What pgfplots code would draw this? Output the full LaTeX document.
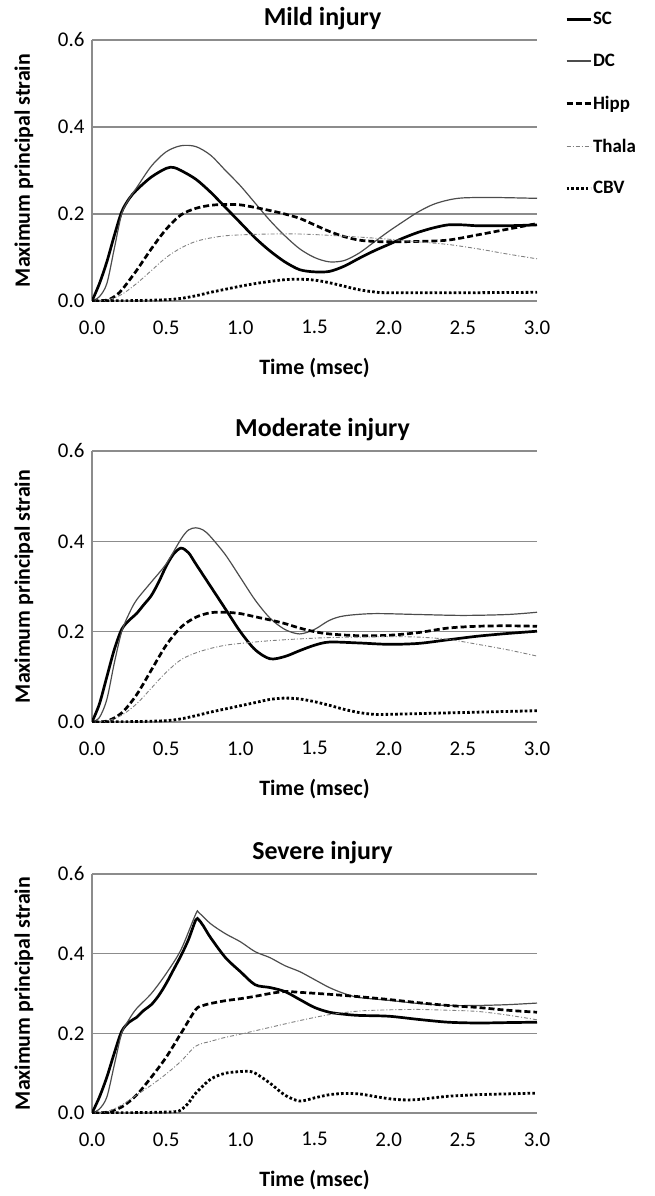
\documentclass[border=0pt]{standalone}
\usepackage{pgfplots}
\pgfplotsset{compat=1.18}
\usepackage{fontspec}
\setmainfont{Carlito}
\definecolor{gridc}{gray}{0.55}
\definecolor{dcc}{gray}{0.3}
\definecolor{thc}{gray}{0.5}
\pgfplotsset{
 every axis title shift=0pt,
 panel/.style={
  scale only axis, width=445bp,
  xmin=0, xmax=3, ymin=0, ymax=0.6,
  axis x line=bottom, axis y line=left,
  axis line style={gridc, line width=1.2bp, -},
  xtick={0,0.5,1,1.5,2,2.5,3}, ytick={0,0.2,0.4,0.6},
  ymajorgrids, major grid style={gridc, line width=1.2bp},
  major tick length=0pt,
  tick label style={font=\fontsize{21}{25}\selectfont},
  /pgf/number format/assume math mode=true,
  xticklabel style={/pgf/number format/fixed, /pgf/number format/fixed zerofill, /pgf/number format/precision=1, yshift=-16bp},
  yticklabel style={/pgf/number format/fixed, /pgf/number format/fixed zerofill, /pgf/number format/precision=1, xshift=-4bp},
  xlabel={Time (msec)}, ylabel={Maximum principal strain},
  xlabel style={font=\bfseries\fontsize{22}{26}\selectfont, at={([yshift=-67bp]axis description cs:0.5,0)}, anchor=center},
  ylabel style={font=\bfseries\fontsize{22}{26}\selectfont, at={([xshift=-68bp]axis description cs:0,0.5)}, anchor=center},
  title style={font=\bfseries\fontsize{26}{30}\selectfont, at={([xshift=8bp,yshift=21.5bp]axis description cs:0.5,1)}, anchor=center},
 },
 sc/.style={black, line width=2.7bp, smooth, tension=0.5},
 dc/.style={dcc, line width=1.2bp, smooth, tension=0.5},
 hipp/.style={black, line width=2.7bp, dash pattern=on 6bp off 3bp, smooth, tension=0.5},
 thala/.style={thc, line width=0.9bp, dash pattern=on 4bp off 2bp on 1bp off 2bp, smooth, tension=0.5},
 cbv/.style={black, line width=2.8bp, dash pattern=on 2.6bp off 2.2bp, smooth, tension=0.5},
}
\begin{document}
\begin{tikzpicture}
\useasboundingbox (0,0) rectangle (655bp,-1196bp);
% ---------- Mild ----------
\begin{axis}[panel, height=261bp, at={(92bp,-301bp)}, anchor=south west,
  title={Mild injury},
  legend style={at={([xshift=28bp,yshift=29bp]axis description cs:1,1)}, anchor=north west, draw=none, fill=none, inner sep=0pt,
    font=\bfseries\fontsize{19}{22}\selectfont, row sep=26bp, nodes={inner sep=1bp}},
  legend cell align=left,
  legend image code/.code={\draw[#1] (0bp,0bp) -- (24bp,0bp);}]
\addplot[sc] coordinates {(0,0) (0.05,0.04) (0.1,0.09) (0.15,0.15) (0.2,0.205) (0.25,0.235) (0.3,0.255) (0.4,0.285) (0.5,0.305) (0.55,0.307) (0.6,0.3) (0.7,0.28) (0.8,0.25) (0.9,0.215) (1.0,0.18) (1.1,0.145) (1.2,0.115) (1.3,0.09) (1.4,0.072) (1.5,0.067) (1.6,0.068) (1.7,0.08) (1.8,0.098) (1.9,0.115) (2.0,0.13) (2.1,0.145) (2.2,0.158) (2.3,0.168) (2.4,0.175) (2.5,0.175) (2.6,0.173) (2.8,0.173) (3.0,0.175)};
\addlegendentry{SC}
\addplot[dc] coordinates {(0,0) (0.05,0.01) (0.1,0.04) (0.15,0.12) (0.2,0.2) (0.25,0.235) (0.3,0.26) (0.4,0.31) (0.5,0.343) (0.6,0.357) (0.7,0.355) (0.8,0.335) (0.9,0.3) (1.0,0.265) (1.1,0.225) (1.2,0.185) (1.3,0.15) (1.4,0.12) (1.5,0.1) (1.6,0.09) (1.7,0.093) (1.8,0.11) (1.9,0.135) (2.0,0.16) (2.1,0.183) (2.2,0.205) (2.3,0.222) (2.4,0.232) (2.5,0.237) (2.7,0.238) (3.0,0.236)};
\addlegendentry{DC}
\addplot[hipp] coordinates {(0,0) (0.1,0.002) (0.15,0.01) (0.2,0.025) (0.3,0.07) (0.4,0.12) (0.5,0.165) (0.6,0.198) (0.7,0.213) (0.8,0.22) (0.9,0.222) (1.0,0.221) (1.1,0.215) (1.2,0.208) (1.3,0.2) (1.4,0.19) (1.5,0.175) (1.6,0.16) (1.7,0.148) (1.8,0.14) (1.9,0.137) (2.0,0.136) (2.2,0.137) (2.4,0.14) (2.6,0.152) (2.8,0.165) (3.0,0.178)};
\addlegendentry{Hipp}
\addplot[thala] coordinates {(0,0) (0.1,0.002) (0.2,0.015) (0.3,0.04) (0.4,0.07) (0.5,0.1) (0.6,0.122) (0.7,0.137) (0.8,0.145) (0.9,0.15) (1.0,0.152) (1.2,0.154) (1.4,0.154) (1.6,0.151) (1.8,0.147) (2.0,0.142) (2.2,0.136) (2.4,0.13) (2.6,0.12) (2.8,0.108) (3.0,0.097)};
\addlegendentry{Thala}
\addplot[cbv] coordinates {(0,0) (0.3,0.001) (0.5,0.003) (0.6,0.006) (0.7,0.012) (0.8,0.02) (0.9,0.027) (1.0,0.034) (1.1,0.04) (1.2,0.045) (1.3,0.049) (1.4,0.05) (1.5,0.048) (1.6,0.042) (1.7,0.034) (1.8,0.026) (1.9,0.021) (2.0,0.019) (2.5,0.019) (3.0,0.02)};
\addlegendentry{CBV}
\end{axis}
% ---------- Moderate ----------
\begin{axis}[panel, height=271bp, at={(92bp,-722bp)}, anchor=south west,
  title={Moderate injury}]
\addplot[sc] coordinates {(0,0) (0.05,0.04) (0.1,0.1) (0.15,0.16) (0.2,0.205) (0.25,0.225) (0.3,0.24) (0.35,0.26) (0.4,0.28) (0.45,0.31) (0.5,0.345) (0.55,0.372) (0.6,0.385) (0.65,0.375) (0.7,0.35) (0.8,0.3) (0.9,0.25) (1.0,0.2) (1.1,0.16) (1.2,0.14) (1.3,0.145) (1.4,0.158) (1.5,0.17) (1.6,0.177) (1.8,0.175) (2.0,0.172) (2.2,0.174) (2.4,0.182) (2.6,0.19) (2.8,0.196) (3.0,0.201)};
\addplot[dc] coordinates {(0,0) (0.05,0.01) (0.1,0.05) (0.15,0.13) (0.2,0.2) (0.25,0.24) (0.3,0.27) (0.4,0.31) (0.5,0.35) (0.6,0.405) (0.65,0.425) (0.7,0.43) (0.75,0.425) (0.8,0.41) (0.9,0.37) (1.0,0.32) (1.1,0.27) (1.2,0.23) (1.3,0.205) (1.4,0.195) (1.5,0.205) (1.6,0.225) (1.7,0.235) (1.9,0.24) (2.2,0.238) (2.5,0.236) (2.8,0.238) (3.0,0.243)};
\addplot[hipp] coordinates {(0,0) (0.1,0.002) (0.2,0.02) (0.3,0.06) (0.4,0.115) (0.5,0.17) (0.6,0.21) (0.7,0.232) (0.8,0.242) (0.9,0.243) (1.0,0.24) (1.1,0.233) (1.2,0.226) (1.3,0.218) (1.4,0.208) (1.5,0.2) (1.6,0.195) (1.8,0.191) (2.0,0.192) (2.2,0.198) (2.4,0.208) (2.6,0.212) (2.8,0.213) (3.0,0.212)};
\addplot[thala] coordinates {(0,0) (0.1,0.002) (0.2,0.015) (0.3,0.04) (0.4,0.075) (0.5,0.11) (0.6,0.138) (0.7,0.153) (0.8,0.163) (0.9,0.17) (1.0,0.174) (1.2,0.18) (1.4,0.184) (1.6,0.187) (1.8,0.188) (2.0,0.189) (2.2,0.188) (2.4,0.183) (2.6,0.172) (2.8,0.16) (3.0,0.146)};
\addplot[cbv] coordinates {(0,0) (0.3,0.001) (0.5,0.003) (0.6,0.007) (0.7,0.014) (0.8,0.022) (0.9,0.029) (1.0,0.036) (1.1,0.043) (1.2,0.05) (1.3,0.053) (1.4,0.051) (1.5,0.045) (1.6,0.037) (1.7,0.028) (1.8,0.021) (1.9,0.017) (2.0,0.017) (2.5,0.021) (3.0,0.025)};
\end{axis}
% ---------- Severe ----------
\begin{axis}[panel, height=239bp, at={(92bp,-1113bp)}, anchor=south west,
  title={Severe injury}]
\addplot[sc] coordinates {(0,0) (0.05,0.04) (0.1,0.09) (0.15,0.15) (0.2,0.205) (0.25,0.228) (0.3,0.24) (0.35,0.258) (0.4,0.272) (0.45,0.295) (0.5,0.325) (0.55,0.36) (0.6,0.395) (0.65,0.435) (0.7,0.485) (0.72,0.485) (0.75,0.47) (0.8,0.44) (0.9,0.39) (1.0,0.355) (1.1,0.322) (1.2,0.315) (1.3,0.305) (1.4,0.285) (1.5,0.265) (1.6,0.253) (1.7,0.248) (1.8,0.245) (2.0,0.243) (2.2,0.235) (2.4,0.228) (2.6,0.226) (2.8,0.227) (3.0,0.228)};
\addplot[dc] coordinates {(0,0) (0.05,0.01) (0.1,0.04) (0.15,0.12) (0.2,0.2) (0.25,0.235) (0.3,0.262) (0.4,0.3) (0.5,0.35) (0.6,0.41) (0.7,0.5) (0.72,0.503) (0.8,0.475) (0.9,0.45) (1.0,0.43) (1.1,0.405) (1.2,0.39) (1.3,0.37) (1.4,0.355) (1.5,0.335) (1.6,0.315) (1.7,0.3) (1.8,0.29) (2.0,0.283) (2.2,0.275) (2.4,0.27) (2.6,0.27) (2.8,0.272) (3.0,0.276)};
\addplot[hipp] coordinates {(0,0) (0.1,0.002) (0.2,0.015) (0.3,0.045) (0.4,0.09) (0.5,0.14) (0.6,0.2) (0.7,0.26) (0.75,0.27) (0.8,0.275) (0.9,0.282) (1.0,0.287) (1.1,0.293) (1.2,0.3) (1.3,0.305) (1.4,0.303) (1.6,0.298) (1.8,0.292) (2.0,0.285) (2.2,0.277) (2.4,0.27) (2.6,0.265) (2.8,0.258) (3.0,0.253)};
\addplot[thala] coordinates {(0,0) (0.1,0.003) (0.2,0.02) (0.3,0.045) (0.4,0.07) (0.5,0.098) (0.6,0.13) (0.7,0.168) (0.8,0.18) (0.9,0.19) (1.0,0.198) (1.2,0.215) (1.4,0.232) (1.6,0.247) (1.8,0.256) (2.0,0.259) (2.2,0.26) (2.4,0.258) (2.6,0.255) (2.8,0.246) (3.0,0.234)};
\addplot[cbv] coordinates {(0,0) (0.3,0.001) (0.55,0.003) (0.6,0.008) (0.65,0.025) (0.7,0.05) (0.8,0.085) (0.9,0.1) (1.0,0.104) (1.05,0.105) (1.1,0.1) (1.2,0.075) (1.3,0.045) (1.4,0.03) (1.5,0.038) (1.6,0.046) (1.7,0.049) (1.8,0.048) (1.9,0.042) (2.0,0.036) (2.1,0.033) (2.2,0.034) (2.4,0.042) (2.6,0.046) (2.8,0.048) (3.0,0.05)};
\end{axis}
\end{tikzpicture}
\end{document}
